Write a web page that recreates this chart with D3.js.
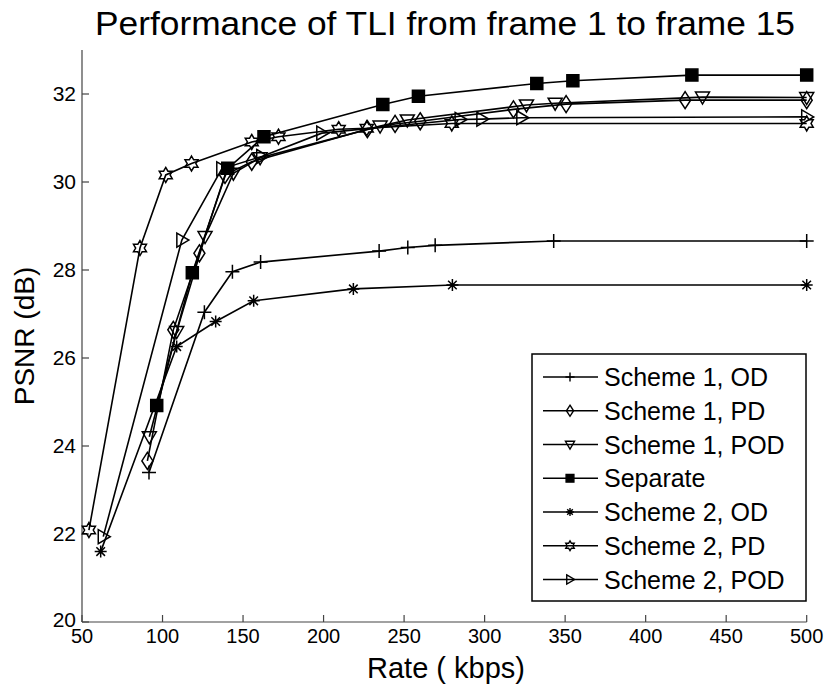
<!DOCTYPE html>
<html>
<head>
<meta charset="utf-8">
<script src="https://cdn.jsdelivr.net/npm/d3@7"></script>
<style>
  body { margin: 0; background: #fff; }
  svg { display: block; font-family: 'Liberation Sans', Arial, sans-serif; }
</style>
</head>
<body>
<svg></svg>
<script>
// data

var xTicks = [50, 100, 150, 200, 250, 300, 350, 400, 450, 500]
var yTicks = [20, 22, 24, 26, 28, 30, 32]

var names = ['Scheme 1, OD', 'Scheme 1, PD', 'Scheme 1, POD', 'Separate',
  'Scheme 2, OD', 'Scheme 2, PD', 'Scheme 2, POD']

var s1odRate = [91.6, 126, 143.4, 160.9, 234.5, 252.3, 269.3, 342.9, 500]
var s1odPsnr = [23.4, 27.04, 27.96, 28.18, 28.43, 28.51, 28.56, 28.66, 28.66]

var s1pdRate = [90.6, 106.7, 122.9, 138.8, 155.4, 227.2, 244.4, 260, 317.9, 350.6, 424.5, 500]
var s1pdPsnr = [23.66, 26.64, 28.38, 30.16, 30.46, 31.2, 31.32, 31.38, 31.65, 31.77, 31.86, 31.86]

var s1podRate = [91.8, 108.8, 126.4, 144, 160.6, 235.1, 252, 326, 343.8, 435.3, 500]
var s1podPsnr = [24.21, 26.6, 28.76, 30.2, 30.55, 31.27, 31.41, 31.75, 31.79, 31.93, 31.92]

var sepRate = [96.4, 118.5, 140.5, 163, 236.8, 258.9, 332.4, 354.8, 428.7, 500]
var sepPsnr = [24.92, 27.94, 30.31, 31.03, 31.76, 31.95, 32.24, 32.3, 32.43, 32.43]

var s2odRate = [61.6, 108.8, 133, 156.6, 218.5, 280, 500]
var s2odPsnr = [21.6, 26.26, 26.83, 27.3, 27.57, 27.66, 27.66]

var s2pdRate = [54.3, 86, 102, 118, 155.4, 172, 209.4, 226.8, 279.6, 500]
var s2pdPsnr = [22.09, 28.5, 30.16, 30.42, 30.91, 31.03, 31.2, 31.22, 31.33, 31.33]

var s2podRate = [63.2, 112, 136.8, 161.6, 198.9, 284.8, 298.3, 323.1, 500]
var s2podPsnr = [21.94, 28.68, 30.3, 30.58, 31.11, 31.42, 31.43, 31.46, 31.48]

// -----------------

var w = 828
var h = 687

var svg = d3.select('svg')
  .attr('width', w)
  .attr('height', h)

var x = d3.scaleLinear().domain([50, 500]).range([82, 806.7])
var y = d3.scaleLinear().domain([20, 33]).range([622, 50])

var markers = ['plus', 'diamond', 'down', 'square', 'aster', 'hexa', 'right']
var series = [
  [s1odRate, s1odPsnr], [s1pdRate, s1pdPsnr], [s1podRate, s1podPsnr], [sepRate, sepPsnr],
  [s2odRate, s2odPsnr], [s2pdRate, s2pdPsnr], [s2podRate, s2podPsnr]
].map(function (s, i) {
  return {
    name: names[i],
    marker: markers[i],
    points: s[0].map(function (r, j) { return { rate: r, psnr: s[1][j] } })
  }
})

// marker shapes, k = scale
function markerPath (type, k) {
  var p = d3.path()
  if (type === 'plus') {
    p.moveTo(-7 * k, 0); p.lineTo(7 * k, 0)
    p.moveTo(0, -7 * k); p.lineTo(0, 7 * k)
  } else if (type === 'aster') {
    p.moveTo(-6 * k, 0); p.lineTo(6 * k, 0)
    p.moveTo(0, -6 * k); p.lineTo(0, 6 * k)
    p.moveTo(-4.3 * k, -4.3 * k); p.lineTo(4.3 * k, 4.3 * k)
    p.moveTo(-4.3 * k, 4.3 * k); p.lineTo(4.3 * k, -4.3 * k)
  } else if (type === 'diamond') {
    p.moveTo(0, -8.5 * k); p.lineTo(5.5 * k, 0); p.lineTo(0, 8.5 * k); p.lineTo(-5.5 * k, 0); p.closePath()
  } else if (type === 'down') {
    p.moveTo(-7 * k, -5 * k); p.lineTo(7 * k, -5 * k); p.lineTo(0, 7 * k); p.closePath()
  } else if (type === 'right') {
    p.moveTo(-5 * k, -7 * k); p.lineTo(7 * k, 0); p.lineTo(-5 * k, 7 * k); p.closePath()
  } else if (type === 'square') {
    p.rect(-6 * k, -6 * k, 12 * k, 12 * k)
  } else if (type === 'hexa') {
    var R = 7.5 * k
    var r = R / Math.sqrt(3)
    for (var i = 0; i < 12; i++) {
      var a = -Math.PI / 2 + i * Math.PI / 6
      var rr = i % 2 === 0 ? R : r
      if (i === 0) p.moveTo(rr * Math.cos(a), rr * Math.sin(a))
      else p.lineTo(rr * Math.cos(a), rr * Math.sin(a))
    }
    p.closePath()
  }
  return p.toString()
}

// axes
var axisColor = '#444'

svg.append('line')
  .attr('x1', x(50)).attr('x2', x(500))
  .attr('y1', y(20)).attr('y2', y(20))
  .attr('stroke', axisColor).attr('stroke-width', 1.2)

svg.append('line')
  .attr('x1', x(50)).attr('x2', x(50))
  .attr('y1', y(20)).attr('y2', y(33))
  .attr('stroke', axisColor).attr('stroke-width', 1.2)

svg.selectAll('.xtick').data(xTicks).enter().append('line')
  .attr('x1', function (d) { return x(d) }).attr('x2', function (d) { return x(d) })
  .attr('y1', y(20)).attr('y2', y(20) - 7)
  .attr('stroke', axisColor).attr('stroke-width', 1.2)

svg.selectAll('.ytick').data(yTicks).enter().append('line')
  .attr('x1', x(50)).attr('x2', x(50) + 7)
  .attr('y1', function (d) { return y(d) }).attr('y2', function (d) { return y(d) })
  .attr('stroke', axisColor).attr('stroke-width', 1.2)

svg.selectAll('.xlab').data(xTicks).enter().append('text')
  .attr('x', function (d) { return x(d) })
  .attr('y', y(20) + 21)
  .attr('text-anchor', 'middle')
  .style('font-size', '20px')
  .text(function (d) { return d })

svg.selectAll('.ylab').data(yTicks).enter().append('text')
  .attr('x', x(50) - 6)
  .attr('y', function (d) { return y(d) + (d === 20 ? 5 : 7) })
  .attr('text-anchor', 'end')
  .style('font-size', '21px')
  .text(function (d) { return d })

svg.append('text')
  .attr('x', 446).attr('y', 678)
  .attr('text-anchor', 'middle')
  .style('font-size', '29px')
  .text('Rate ( kbps)')

svg.append('text')
  .attr('transform', 'translate(34,336) rotate(-90)')
  .attr('text-anchor', 'middle')
  .style('font-size', '28px')
  .text('PSNR (dB)')

svg.append('text')
  .attr('x', 445).attr('y', 35)
  .attr('text-anchor', 'middle')
  .attr('textLength', 700)
  .attr('lengthAdjust', 'spacingAndGlyphs')
  .style('font-size', '33px')
  .text('Performance of TLI from frame 1 to frame 15')

// curves
var line = d3.line()
  .x(function (d) { return x(d.rate) })
  .y(function (d) { return y(d.psnr) })

var g = svg.append('g')

series.forEach(function (s) {
  g.append('path')
    .datum(s.points)
    .attr('d', line)
    .attr('fill', 'none')
    .attr('stroke', '#000')
    .attr('stroke-width', 1.6)

  g.selectAll(null).data(s.points).enter().append('path')
    .attr('transform', function (d) { return 'translate(' + x(d.rate) + ',' + y(d.psnr) + ')' })
    .attr('d', markerPath(s.marker, 1))
    .attr('fill', s.marker === 'square' ? '#000' : 'none')
    .attr('stroke', '#000')
    .attr('stroke-width', 1.5)
})

// legend
var lg = svg.append('g')
lg.append('rect')
  .attr('x', 532).attr('y', 354)
  .attr('width', 274).attr('height', 247)
  .attr('fill', '#fff').attr('stroke', '#000').attr('stroke-width', 1.5)

var rowY = d3.scaleLinear().domain([0, 6]).range([377, 579.5])

series.forEach(function (s, i) {
  var ry = rowY(i)
  lg.append('line')
    .attr('x1', 543).attr('x2', 598)
    .attr('y1', ry).attr('y2', ry)
    .attr('stroke', '#000').attr('stroke-width', 1.6)
  lg.append('path')
    .attr('transform', 'translate(570,' + ry + ')')
    .attr('d', markerPath(s.marker, 0.65))
    .attr('fill', s.marker === 'square' ? '#000' : 'none')
    .attr('stroke', '#000').attr('stroke-width', 1.4)
  lg.append('text')
    .attr('x', 604).attr('y', ry + 9)
    .style('font-size', '25px')
    .text(s.name)
})
</script>
</body>
</html>
